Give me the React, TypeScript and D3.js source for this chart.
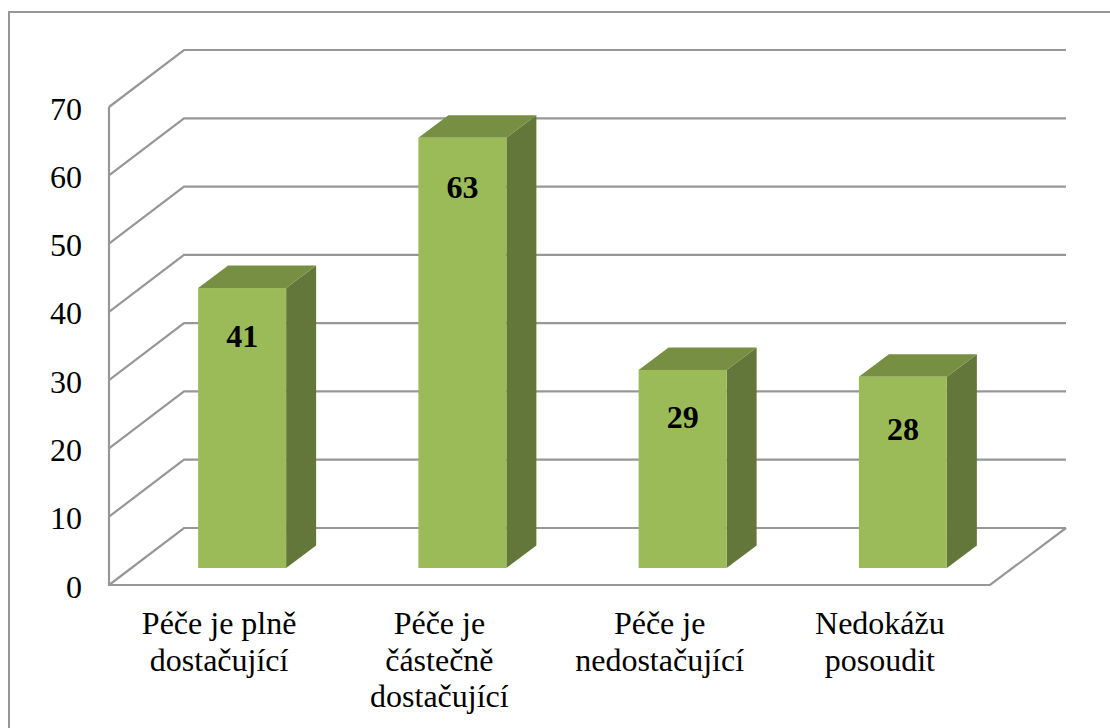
import React from "react";
import * as d3 from "d3";

const categories: string[][] = [
  ["Péče je plně", "dostačující"],
  ["Péče je", "částečně", "dostačující"],
  ["Péče je", "nedostačující"],
  ["Nedokážu", "posoudit"],
];
const values = [41, 63, 29, 28];
const yTicks = [0, 10, 20, 30, 40, 50, 60, 70];

const WIDTH = 1110;
const HEIGHT = 728;
const GRID = "#979797";
const FRONT = "#9bbb59";
const TOP = "#778f42";
const SIDE = "#64773a";
const FONT = "'Liberation Serif', 'Times New Roman', serif";

// Floor and wall of the 3D plot box
const plot = { left: 109, right: 990, top: 107, bottom: 585 };
const wallDepth = { x: 75, y: -57 };
const barDepth = { x: 30, y: -22.5 };

const x = d3
  .scaleBand<number>()
  .domain(d3.range(values.length))
  .range([plot.left, plot.right]);
const y = d3.scaleLinear().domain([0, 70]).range([plot.bottom, plot.top]);

const barWidth = 88;
const barShift = 23; // bars stand midway into the depth of the floor
const barBaseLift = 17;
const valueLabelDrop = [48, 50, 47, 52.5]; // distance from bar top to its label

const path = (pts: [number, number][]) => d3.line()(pts) + "Z";

export default function App() {
  const wallLine = d3.line();
  return (
    <svg
      width={WIDTH}
      height={HEIGHT}
      style={{ position: "absolute", left: 0, top: 0, background: "#fff" }}
    >
      {/* Chart frame, cut off by the page on the right and at the bottom */}
      <path
        d={`M9 ${HEIGHT}V12H${WIDTH}`}
        fill="none"
        stroke={GRID}
        strokeWidth={2}
      />

      {/* Gridlines running across the back wall and down the side wall */}
      {yTicks.map((t) => (
        <path
          key={t}
          d={
            wallLine([
              [plot.left, y(t)],
              [plot.left + wallDepth.x, y(t) + wallDepth.y],
              [plot.right + wallDepth.x + 1, y(t) + wallDepth.y],
            ]) ?? ""
          }
          fill="none"
          stroke={GRID}
          strokeWidth={2.2}
        />
      ))}

      {/* Front edges of the floor and the value axis */}
      <path
        d={
          wallLine([
            [plot.left, y(70)],
            [plot.left, y(0)],
            [plot.right, y(0)],
            [plot.right + wallDepth.x + 1, y(0) + wallDepth.y],
          ]) ?? ""
        }
        fill="none"
        stroke={GRID}
        strokeWidth={2.2}
      />

      {yTicks.map((t) => (
        <text
          key={t}
          x={82}
          y={y(t) + 2}
          dy="0.33em"
          textAnchor="end"
          fontFamily={FONT}
          fontSize={32}
          fill="#000"
        >
          {t}
        </text>
      ))}

      {values.map((v, i) => {
        const x0 = (x(i) ?? 0) + (x.bandwidth() - barWidth) / 2 + barShift;
        const x1 = x0 + barWidth;
        const base = y(0) - barBaseLift;
        const top = base - (y(0) - y(v));
        const dx = barDepth.x;
        const dy = barDepth.y;
        return (
          <g key={i}>
            <path
              d={path([
                [x1, top],
                [x1 + dx, top + dy],
                [x1 + dx, base + dy],
                [x1, base],
              ])}
              fill={SIDE}
            />
            <path
              d={path([
                [x0, top],
                [x0 + dx, top + dy],
                [x1 + dx, top + dy],
                [x1, top],
              ])}
              fill={TOP}
            />
            <rect x={x0} y={top} width={barWidth} height={base - top} fill={FRONT} />
            <text
              x={x0 + barWidth / 2}
              y={top + valueLabelDrop[i]}
              dy="0.33em"
              textAnchor="middle"
              fontFamily={FONT}
              fontSize={32}
              fontWeight="bold"
              fill="#000"
            >
              {v}
            </text>
          </g>
        );
      })}

      {categories.map((lines, i) =>
        lines.map((line, j) => (
          <text
            key={j}
            x={(x(i) ?? 0) + x.bandwidth() / 2}
            y={634 + j * 36.7}
            textAnchor="middle"
            fontFamily={FONT}
            fontSize={32}
            fill="#000"
          >
            {line}
          </text>
        ))
      )}
    </svg>
  );
}
